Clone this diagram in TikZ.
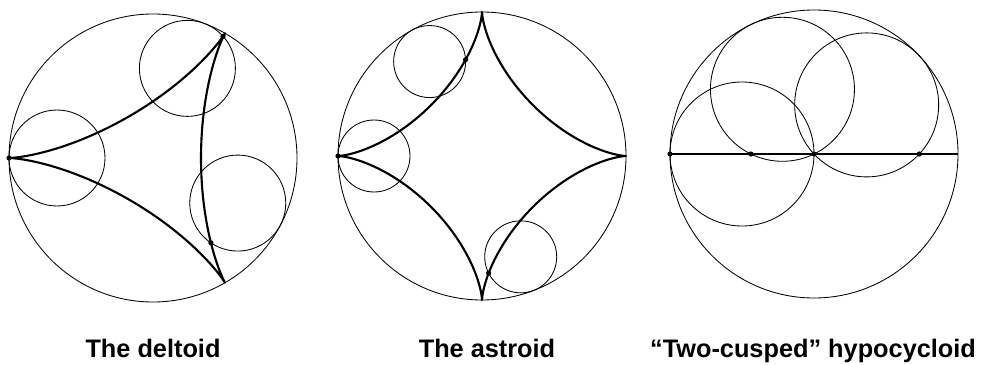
\documentclass[tikz,border=0pt]{standalone}
\usepackage{fontspec}
\setmainfont{Liberation Sans}
\begin{document}
\begin{tikzpicture}[x=0.025cm, y=0.025cm,
    outer/.style={line width=0.6pt},
    rolling/.style={line width=0.6pt},
    curve/.style={line width=1.5pt, line join=round},
    tracept/.style={fill=black},
    caption/.style={anchor=base, font=\bfseries\fontsize{18}{20}\selectfont}]

    \useasboundingbox (0,0) rectangle (984,364);

    % --- The deltoid (R = 144, r = 48) ---
    \begin{scope}[shift={(153,206)}]
        \coordinate (DO) at (0,0);
        \draw[outer] (DO) circle (144);
        \draw[curve] plot[domain=0:360, samples=181, variable=\t]
            ({-96*cos(\t)-48*cos(2*\t)}, {-96*sin(\t)+48*sin(2*\t)}) -- cycle;

        % Circulos rolantes e ponto tracador
        \coordinate (D1) at (180:96);
        \coordinate (D2) at (69:96);
        \coordinate (D3) at (-28:96);
        \draw[rolling] (D1) circle (48);
        \draw[rolling] (D2) circle (48);
        \draw[rolling] (D3) circle (48);
        \fill[tracept] (D1) ++(180:48) circle (2.6);
        \fill[tracept] (D2) ++(42:48) circle (2.6);
        \fill[tracept] (D3) ++(236:48) circle (2.6);
    \end{scope}

    % --- The astroid (R = 144, r = 36) ---
    \begin{scope}[shift={(482,208)}]
        \coordinate (AO) at (0,0);
        \draw[outer] (AO) circle (144);
        \draw[curve] plot[domain=0:360, samples=181, variable=\t]
            ({108*cos(\t)+36*cos(3*\t)}, {108*sin(\t)-36*sin(3*\t)}) -- cycle;

        \coordinate (A1) at (119:108);
        \coordinate (A2) at (180:108);
        \coordinate (A3) at (-69:108);
        \draw[rolling] (A1) circle (36);
        \draw[rolling] (A2) circle (36);
        \draw[rolling] (A3) circle (36);
        \fill[tracept] (A1) ++(3:36) circle (2.6);
        \fill[tracept] (A2) ++(180:36) circle (2.6);
        \fill[tracept] (A3) ++(207:36) circle (2.6);
    \end{scope}

    % --- Two-cusped hypocycloid (R = 144, r = 72) ---
    \begin{scope}[shift={(814,210)}]
        \coordinate (HO) at (0,0);
        \coordinate (HL) at (-144,0);
        \coordinate (HR) at (144,0);
        \draw[outer] (HO) circle (144);
        \draw[curve] (HL) -- (HR);

        \coordinate (H1) at (180:72);
        \coordinate (H2) at (116:72);
        \coordinate (H3) at (43:72);
        \draw[rolling] (H1) circle (72);
        \draw[rolling] (H2) circle (72);
        \draw[rolling] (H3) circle (72);
        \fill[tracept] (H1) ++(180:72) circle (2.6);
        \fill[tracept] (H2) ++(-116:72) circle (2.6);
        \fill[tracept] (H3) ++(-43:72) circle (2.6);
        \fill[tracept] (HO) circle (2.6);
    \end{scope}

    % --- Legendas ---
    \node[caption] (capD) at (153,7) {The deltoid};
    \node[caption] (capA) at (487,7) {The astroid};
    \node[caption] (capH) at (813,7) {“Two-cusped” hypocycloid};

\end{tikzpicture}
\end{document}
